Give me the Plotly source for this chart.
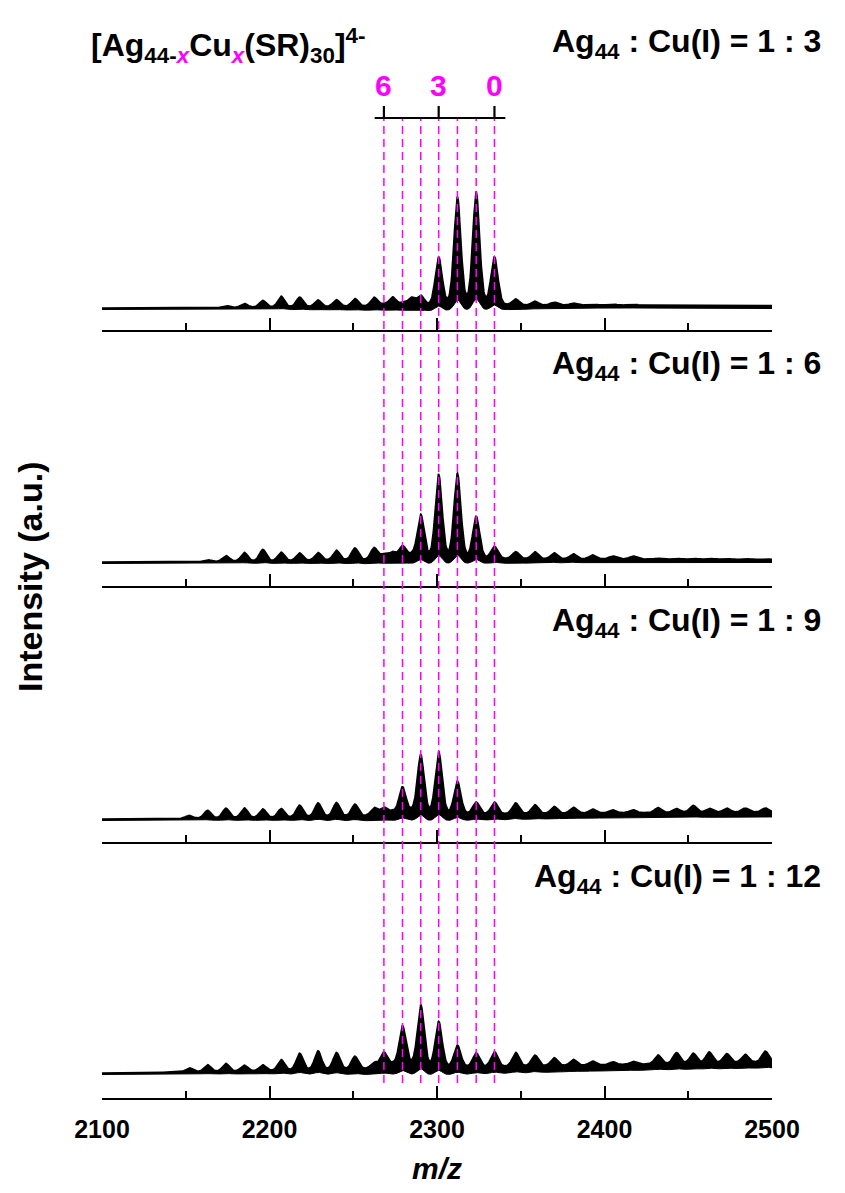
import numpy as np
import plotly.graph_objects as go

# ---------------- data ----------------
ratio_labels = ["1 : 3", "1 : 6", "1 : 9", "1 : 12"]

# m/z of the Ag(44-x)Cu(x) peaks, x = 0..6
cu_count = [0, 1, 2, 3, 4, 5, 6]
main_mz = [2334.3, 2323.4, 2312.2, 2301.0, 2290.3, 2279.4, 2268.3]

# secondary / side peaks (m/z)
side_mz = [2152.0, 2163.0, 2174.0, 2185.0, 2196.0, 2207.0, 2218.0,
           2229.0, 2240.0, 2251.0, 2262.5, 2273.5, 2284.7]
tail_mz = [2347.0, 2358.5, 2370.0, 2381.5, 2393.0, 2405.0, 2417.0,
           2432.0, 2443.0, 2453.0, 2462.5, 2473.0, 2484.0, 2496.0]

# intensities (a.u.) for each spectrum
main_h_1 = [48, 113, 108, 48, 10, 3, 2]
main_h_2 = [12, 42, 85, 84, 44, 13, 5]
main_h_3 = [12, 12, 33, 63, 60, 28, 8]
main_h_4 = [15, 14, 22, 46, 63, 42, 16]

side_h_1 = [0, 0, 2, 4, 7, 11, 10, 7, 7, 8, 9, 9, 8]
side_h_2 = [0, 2, 6, 9, 12, 9, 8, 8, 10, 12, 12, 7, 4]
side_h_3 = [3, 8, 10, 10, 9, 9, 12, 14, 14, 12, 8, 4, 3]
side_h_4 = [4, 7, 8, 6, 6, 11, 17, 19, 17, 13, 6, 4, 3]

tail_h_1 = [6, 4, 3, 2, 1, 1, 1, 0, 0, 0, 0, 0, 0, 0]
tail_h_2 = [7, 7, 6, 5, 4, 3, 3, 1, 1, 1, 1, 1, 1, 1]
tail_h_3 = [11, 9, 7, 6, 4, 3, 3, 5, 4, 7, 4, 4, 4, 4]
tail_h_4 = [14, 11, 8, 6, 4, 3, 3, 9, 11, 10, 11, 9, 8, 11]

# baseline (background) of each spectrum
base_mz = [2100, 2200, 2300, 2400, 2500]
base_1 = [0, 0.5, 2, 3, 2.5]
base_2 = [0, 0.5, 3, 3, 2.5]
base_3 = [0, 1, 4, 6, 7]
base_4 = [0, 2, 5, 8, 11]
# apparent trace thickness (noise band)
band_1 = [1.5, 2.0, 5, 3, 3]
band_2 = [1.5, 2.0, 5, 3.5, 3]
band_3 = [1.5, 2.5, 6, 5, 5]
band_4 = [1.5, 3.0, 7, 6, 6]

# ---------------- build spectra ----------------
panels = [
    (main_h_1, side_h_1, tail_h_1, base_1, band_1),
    (main_h_2, side_h_2, tail_h_2, base_2, band_2),
    (main_h_3, side_h_3, tail_h_3, base_3, band_3),
    (main_h_4, side_h_4, tail_h_4, base_4, band_4),
]

mz = np.arange(2100, 2500.001, 0.25)


def profile(centers, heights):
    c = np.asarray(centers)[:, None]
    h = np.asarray(heights, float)[:, None]
    d = mz[None, :] - c
    g = np.exp(-d ** 2 / (2 * 2.1 ** 2))
    lor = 1.0 / (1.0 + (d / 2.2) ** 2)
    return (h * (0.82 * g + 0.18 * lor)).sum(axis=0)


fig = go.Figure()

H = 1098.0  # plot-area height in px (t=0)
axis_px = [330, 586, 842, 1098]
base_off = [22, 24, 23, 25]
dom_h = 250.0

MAG = "#FF00FF"
FONT = "Arial, Liberation Sans, sans-serif"

for i, (mh, sh, th, bl, bd) in enumerate(panels):
    n = i + 1
    sfx = "" if n == 1 else str(n)
    P = profile(main_mz, mh) + profile(side_mz, sh) + profile(tail_mz, th)
    B = np.interp(mz, base_mz, bl)
    T = np.interp(mz, base_mz, bd)
    upper = B + P
    lower = B - T + 0.1 * P
    fig.add_trace(go.Scatter(x=mz, y=lower, mode="lines",
                             line=dict(color="black", width=1),
                             xaxis="x" + sfx, yaxis="y" + sfx,
                             showlegend=False, hoverinfo="skip"))
    fig.add_trace(go.Scatter(x=mz, y=upper, mode="lines",
                             line=dict(color="black", width=1.6),
                             fill="tonexty", fillcolor="black",
                             xaxis="x" + sfx, yaxis="y" + sfx,
                             showlegend=False, hoverinfo="skip"))
    y0 = 1 - axis_px[i] / H
    y1 = y0 + dom_h / H
    last = (i == 3)
    fig.layout["xaxis" + sfx] = dict(
        domain=[0, 1], range=[2100, 2500], anchor="y" + sfx,
        showline=True, linecolor="black", linewidth=2,
        ticks="inside", ticklen=12, tickwidth=2, tickcolor="black",
        tick0=2100, dtick=100, showgrid=False, zeroline=False,
        showticklabels=last, ticklabelstandoff=8,
        tickfont=dict(family=FONT, size=25, color="black", weight="bold"),
        minor=dict(ticks="inside", ticklen=7, tickwidth=2,
                   tickcolor="black", tick0=2100, dtick=50, showgrid=False),
    )
    fig.layout["yaxis" + sfx] = dict(
        domain=[y0, y1], range=[-base_off[i], dom_h - base_off[i]],
        anchor="x" + sfx, visible=False, fixedrange=True,
    )


def py(p):
    return 1 - p / H


# dashed guide lines through all spectra
for m in main_mz:
    fig.add_shape(type="line", xref="x", yref="paper", x0=m, x1=m,
                  y0=py(1083), y1=py(118),
                  line=dict(color=MAG, width=1.5, dash="8px,5px"))

# scale bar on top
fig.add_shape(type="line", xref="x", yref="paper",
              x0=main_mz[-1] - 5.5, x1=main_mz[0] + 6.5,
              y0=py(118), y1=py(118), line=dict(color="black", width=2.2))
for k in (0, 3, 6):
    fig.add_shape(type="line", xref="x", yref="paper",
                  x0=main_mz[k], x1=main_mz[k], y0=py(118), y1=py(106),
                  line=dict(color="black", width=2.2))
    fig.add_annotation(x=main_mz[k], y=py(85), xref="x", yref="paper",
                       text=str(cu_count[k]), showarrow=False,
                       xanchor="center", yanchor="middle",
                       font=dict(family=FONT, size=30, color=MAG, weight="bold"))

# formula title
xi = "<span style='color:%s'><i>x</i></span>" % MAG
fig.add_annotation(x=(89 - 102) / 670, y=py(45), xref="paper", yref="paper",
                   text="[Ag<sub>44-" + xi + "</sub>Cu<sub>" + xi +
                        "</sub>(SR)<sub>30</sub>]<sup>4-</sup>",
                   showarrow=False, xanchor="left", yanchor="middle",
                   font=dict(family=FONT, size=32, color="black", weight="bold"))

# ratio labels
label_px = [44, 366, 622, 878]
for i, r in enumerate(ratio_labels):
    fig.add_annotation(x=(823 - 102) / 670, y=py(label_px[i]),
                       xref="paper", yref="paper",
                       text="Ag<sub>44</sub> : Cu(I) = " + r,
                       showarrow=False, xanchor="right", yanchor="middle",
                       font=dict(family=FONT, size=32, color="black", weight="bold"))

# axis titles
fig.add_annotation(x=(30 - 102) / 670, y=py(577), xref="paper", yref="paper",
                   text="Intensity (a.u.)", textangle=-90, showarrow=False,
                   xanchor="center", yanchor="middle",
                   font=dict(family=FONT, size=34, color="black", weight="bold"))
fig.add_annotation(x=0.5, y=py(1168), xref="paper", yref="paper",
                   text="<i>m/z</i>", showarrow=False,
                   xanchor="center", yanchor="middle",
                   font=dict(family=FONT, size=30, color="black", weight="bold"))

fig.update_layout(
    width=845, height=1193,
    margin=dict(l=102, r=73, t=0, b=95, pad=0),
    paper_bgcolor="white", plot_bgcolor="white",
    showlegend=False,
)

fig.write_html("out.html")
